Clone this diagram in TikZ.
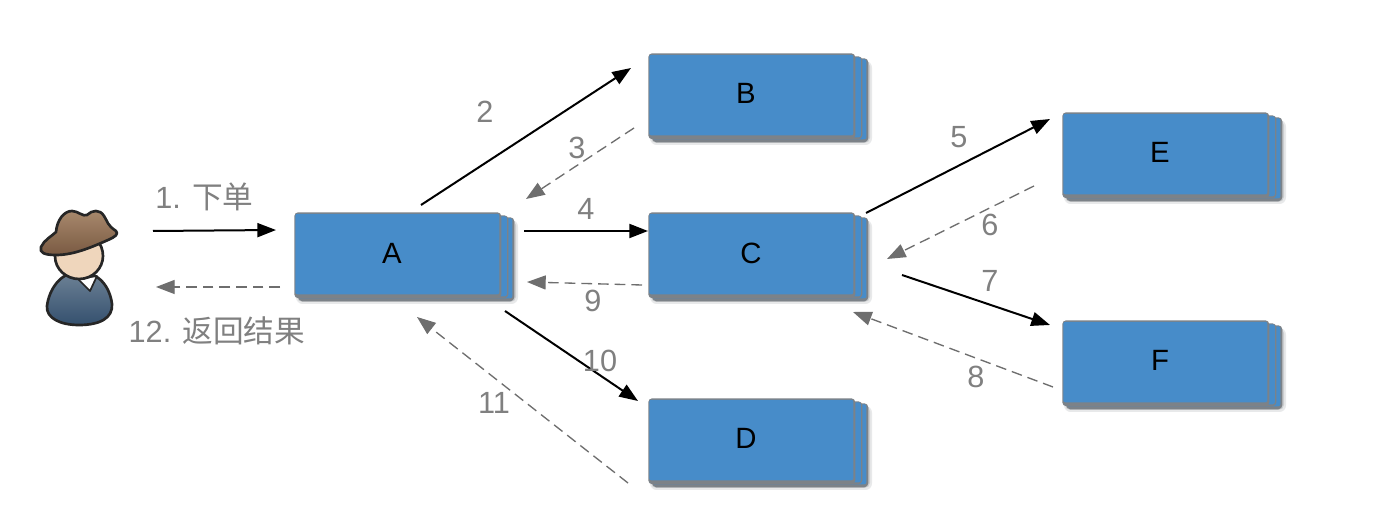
\documentclass[tikz,border=0pt]{standalone}
\usepackage{fontspec}
\setmainfont{Liberation Sans}
\newfontfamily\cjk{Noto Sans CJK SC}
\usetikzlibrary{arrows.meta}
\definecolor{boxblue}{HTML}{478CC9}
\definecolor{boxedge}{HTML}{7C8288}
\definecolor{labelgray}{HTML}{808080}
\definecolor{dashgray}{HTML}{6E6E6E}
\definecolor{hatdark}{HTML}{7A5A42}
\definecolor{hatlight}{HTML}{A98A6E}
\definecolor{facecol}{HTML}{EFD6BC}
\definecolor{coatdark}{HTML}{34506E}
\definecolor{coatlight}{HTML}{6E8296}
\tikzset{
  layer/.style={draw=none,fill=boxblue,rounded corners=1.5pt,inner sep=0pt,anchor=north west},
  edgelayer/.style={draw=none,fill=boxedge,rounded corners=3pt,inner sep=0pt,anchor=north west},
  boxtext/.style={font=\fontsize{22}{26}\selectfont,text=black,inner sep=0pt},
  steplabel/.style={font=\fontsize{23}{27}\selectfont,text=labelgray,inner sep=0pt},
  callarrow/.style={black,line width=1.5pt,-{Triangle[length=14pt,width=10.5pt]}},
  backarrow/.style={dashgray,line width=1pt,dash pattern=on 8pt off 4.5pt,-{Triangle[length=14pt,width=10.5pt,fill=dashgray]}},
  outline/.style={draw=black!85,line width=2pt,line join=round}
}
% name, left, top, label x, label y, text
\newcommand{\stackbox}[6]{%
  \fill[boxedge!18,rounded corners=5pt] (#2+2,#3+8) rectangle (#2+224,#3+92);
  \fill[boxedge!40,rounded corners=4pt] (#2+3,#3+8) rectangle (#2+222,#3+90);
  \node[edgelayer,minimum width=162pt,minimum height=63pt] (#1c) at (#2+4,#3+5) {};
  \node[layer,minimum width=160.5pt,minimum height=60pt] (#1cb) at (#2+4,#3+6) {};
  \node[edgelayer,minimum width=157.5pt,minimum height=62.25pt] (#1b) at (#2+4,#3+3) {};
  \node[layer,minimum width=156.4pt,minimum height=60pt] (#1bb) at (#2+4,#3+4) {};
  \node[edgelayer,minimum width=155.25pt,minimum height=64.5pt] (#1a) at (#2,#3) {};
  \node[layer,minimum width=153pt,minimum height=60.4pt] (#1bx) at (#2+1,#3+1.5) {};
  \node[boxtext] (#1) at (#4,#5) {#6};
}
\begin{document}
\begin{tikzpicture}[x=0.75pt,y=-0.75pt]
\useasboundingbox (0,0) rectangle (1374,530);
\fill[white] (0,0) rectangle (1374,530);

% boxes
\stackbox{A}{294}{212}{392}{253}{A}
\stackbox{B}{648}{53}{746}{93}{B}
\stackbox{C}{648}{212}{751}{253}{C}
\stackbox{D}{648}{398}{746}{438}{D}
\stackbox{E}{1062}{112}{1160}{152}{E}
\stackbox{F}{1062}{320}{1160}{360}{F}

% person
\begin{scope}
  \path[outline,top color=coatlight,bottom color=coatdark]
    (79,272) .. controls (60,272) and (49,290) .. (47,306)
    .. controls (46,318) and (60,325) .. (79,325)
    .. controls (100,325) and (113,318) .. (112,304)
    .. controls (110,288) and (100,272) .. (79,272) -- cycle;
  \path[outline,line width=1.3pt,fill=white] (78,279) -- (97,276) -- (90,291) -- cycle;
  \path[outline,fill=facecol] (79,232) .. controls (64,232) and (55,245) .. (55,256)
    .. controls (55,270) and (67,279) .. (79,279)
    .. controls (93,279) and (103,268) .. (103,256)
    .. controls (103,244) and (94,232) .. (79,232) -- cycle;
  \path[outline,top color=hatlight,bottom color=hatdark]
    (41,247) .. controls (44,240) and (52,236) .. (56,232)
    .. controls (57,220) and (64,211) .. (72,211)
    .. controls (78,211) and (83,217) .. (87,215)
    .. controls (92,210) and (100,209) .. (104,216)
    .. controls (108,222) and (107,225) .. (116,231)
    .. controls (119,234) and (115,237) .. (108,240)
    .. controls (92,247) and (74,255) .. (56,255)
    .. controls (45,255) and (39,253) .. (41,247) -- cycle;
\end{scope}

% connector ends
\coordinate (u1) at (153,231);  \coordinate (a1) at (276,230);
\coordinate (a0) at (280,287);  \coordinate (u0) at (156,287);
\coordinate (a2) at (421,205);  \coordinate (b2) at (631,68);
\coordinate (b3) at (634,128);  \coordinate (a3) at (526,199);
\coordinate (a4) at (524,231);  \coordinate (c4) at (648,231);
\coordinate (c9) at (642,285);  \coordinate (a9) at (527,282);
\coordinate (a10) at (505,311); \coordinate (d10) at (638,401);
\coordinate (d11) at (628,483); \coordinate (a11) at (417,317);
\coordinate (c5) at (866,213);  \coordinate (e5) at (1050,119);
\coordinate (e6) at (1034,186); \coordinate (c6) at (887,259);
\coordinate (c7) at (902,275);  \coordinate (f7) at (1050,325);
\coordinate (f8) at (1053,387); \coordinate (c8) at (853,312);

\draw[callarrow] (u1) -- (a1);
\draw[backarrow] (a0) -- (u0);
\draw[callarrow] (a2) -- (b2);
\draw[backarrow] (b3) -- (a3);
\draw[callarrow] (a4) -- (c4);
\draw[backarrow] (c9) -- (a9);
\draw[callarrow] (a10) -- (d10);
\draw[backarrow] (d11) -- (a11);
\draw[callarrow] (c5) -- (e5);
\draw[backarrow] (e6) -- (c6);
\draw[callarrow] (c7) -- (f7);
\draw[backarrow] (f8) -- (c8);

% labels
\node[steplabel] (l1) at (204.5,197) {1. {\cjk 下单}};
\node[steplabel] (l12) at (217,331) {12. {\cjk 返回结果}};
\node[steplabel] (l2) at (485,112) {2};
\node[steplabel] (l3) at (577,148) {3};
\node[steplabel] (l4) at (586,209) {4};
\node[steplabel] (l5) at (959,137) {5};
\node[steplabel] (l6) at (990,225) {6};
\node[steplabel] (l7) at (990,281) {7};
\node[steplabel] (l8) at (976,377) {8};
\node[steplabel] (l9) at (593,301) {9};
\node[steplabel] (l10) at (600,361) {10};
\node[steplabel] (l11) at (494,403) {11};
\end{tikzpicture}
\end{document}
